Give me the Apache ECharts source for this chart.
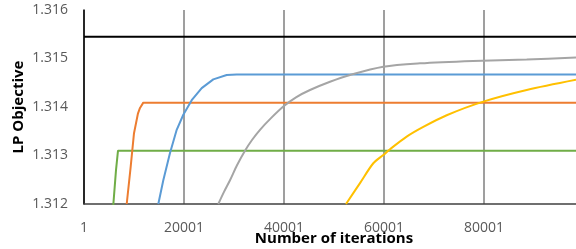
<!DOCTYPE html>
<html>
<head>
<meta charset="utf-8">
<script src="https://cdn.jsdelivr.net/npm/echarts@6/dist/echarts.min.js"></script>
<style>
  html, body { margin: 0; padding: 0; background: #fff; }
  #lpChart { width: 576px; height: 249px; }
</style>
</head>
<body>
<div id="lpChart"></div>
<script>
// x ticks shown: 1, 20001, 40001, 60001, 80001
var xTicks = [1, 20001, 40001, 60001, 80001];
var yTicks = [1.312, 1.313, 1.314, 1.315, 1.316];

// optimum (black reference line)
var optimumLine = [[1, 1.31545], [100001, 1.31545]];

// [iteration, objective]
var greenRun = [[5801, 1.3119], [6401, 1.3127], [6801, 1.3131], [100001, 1.3131]];

var orangeRun = [
  [8541, 1.312], [9341, 1.31277], [10001, 1.31346], [10801, 1.31387],
  [11201, 1.31398], [11861, 1.31409], [100001, 1.31409]
];

var blueRun = [
  [14861, 1.312], [15861, 1.31249], [17201, 1.31305], [18541, 1.31353],
  [19861, 1.31384], [21541, 1.31414], [23541, 1.31439], [25861, 1.31457],
  [28541, 1.31466], [30541, 1.31467], [100001, 1.31467]
];

var grayRun = [
  [26861, 1.312], [28001, 1.31225], [29201, 1.31249], [30601, 1.3128],
  [32201, 1.3131], [33601, 1.31332], [35201, 1.31353], [37401, 1.31377],
  [39861, 1.31401], [42401, 1.3142], [45201, 1.31435], [49201, 1.31452],
  [53201, 1.31466], [59861, 1.31483], [67201, 1.3149], [77801, 1.31495],
  [88541, 1.31498], [98401, 1.31502]
];

var yellowRun = [
  [52401, 1.312], [55201, 1.31243], [57861, 1.31284], [59861, 1.31301],
  [61201, 1.31313], [64541, 1.31339], [67861, 1.31359], [72541, 1.31383],
  [79861, 1.31411], [88541, 1.31435], [98401, 1.31456]
];

var chart = echarts.init(document.getElementById('lpChart'));

function lineSeries (name, data, color, width, smooth) {
  return {
    name: name,
    type: 'line',
    data: data,
    showSymbol: false,
    symbol: 'none',
    smooth: smooth || false,
    clip: true,
    lineStyle: {color: color, width: width},
    itemStyle: {color: color},
    z: 3
  };
}

chart.setOption({
  animation: false,
  textStyle: {fontFamily: 'Open Sans'},
  grid: {left: 84, top: 10, bottom: 45, right: -8, containLabel: false, outerBoundsMode: 'none'},
  xAxis: {
    type: 'value',
    min: xTicks[0],
    max: 100001,
    interval: xTicks[1] - xTicks[0],
    axisLine: {show: true, lineStyle: {color: '#404040', width: 1.5}},
    axisTick: {show: false},
    axisLabel: {
      color: '#595959',
      fontSize: 14,
      margin: 17,
      showMaxLabel: false,
      formatter: function (v) { return String(v); }
    },
    splitLine: {show: true, lineStyle: {color: '#7f7f7f', width: 1.5}},
    name: 'Number of iterations',
    nameLocation: 'middle',
    nameGap: 27,
    nameMoveOverlap: false,
    nameTextStyle: {color: '#000', fontSize: 15, fontWeight: 'bold'}
  },
  yAxis: {
    type: 'value',
    min: yTicks[0],
    max: yTicks[yTicks.length - 1],
    interval: 0.001,
    axisLine: {show: true, lineStyle: {color: '#000', width: 1.5}},
    axisTick: {show: false},
    axisLabel: {
      color: '#595959',
      fontSize: 14,
      margin: 16,
      formatter: function (v) { return v.toFixed(3); }
    },
    splitLine: {show: false},
    name: 'LP Objective',
    nameLocation: 'middle',
    nameGap: 58,
    nameMoveOverlap: false,
    nameTextStyle: {color: '#000', fontSize: 15, fontWeight: 'bold'}
  },
  series: [
    lineSeries('optimum', optimumLine, '#000000', 2),
    lineSeries('run 1', greenRun, '#70ad47', 2),
    lineSeries('run 2', orangeRun, '#ed7d31', 2),
    lineSeries('run 3', blueRun, '#5b9bd5', 2),
    lineSeries('run 4', grayRun, '#a5a5a5', 2, 0.3),
    lineSeries('run 5', yellowRun, '#ffc000', 2, 0.3)
  ]
});
</script>
</body>
</html>
